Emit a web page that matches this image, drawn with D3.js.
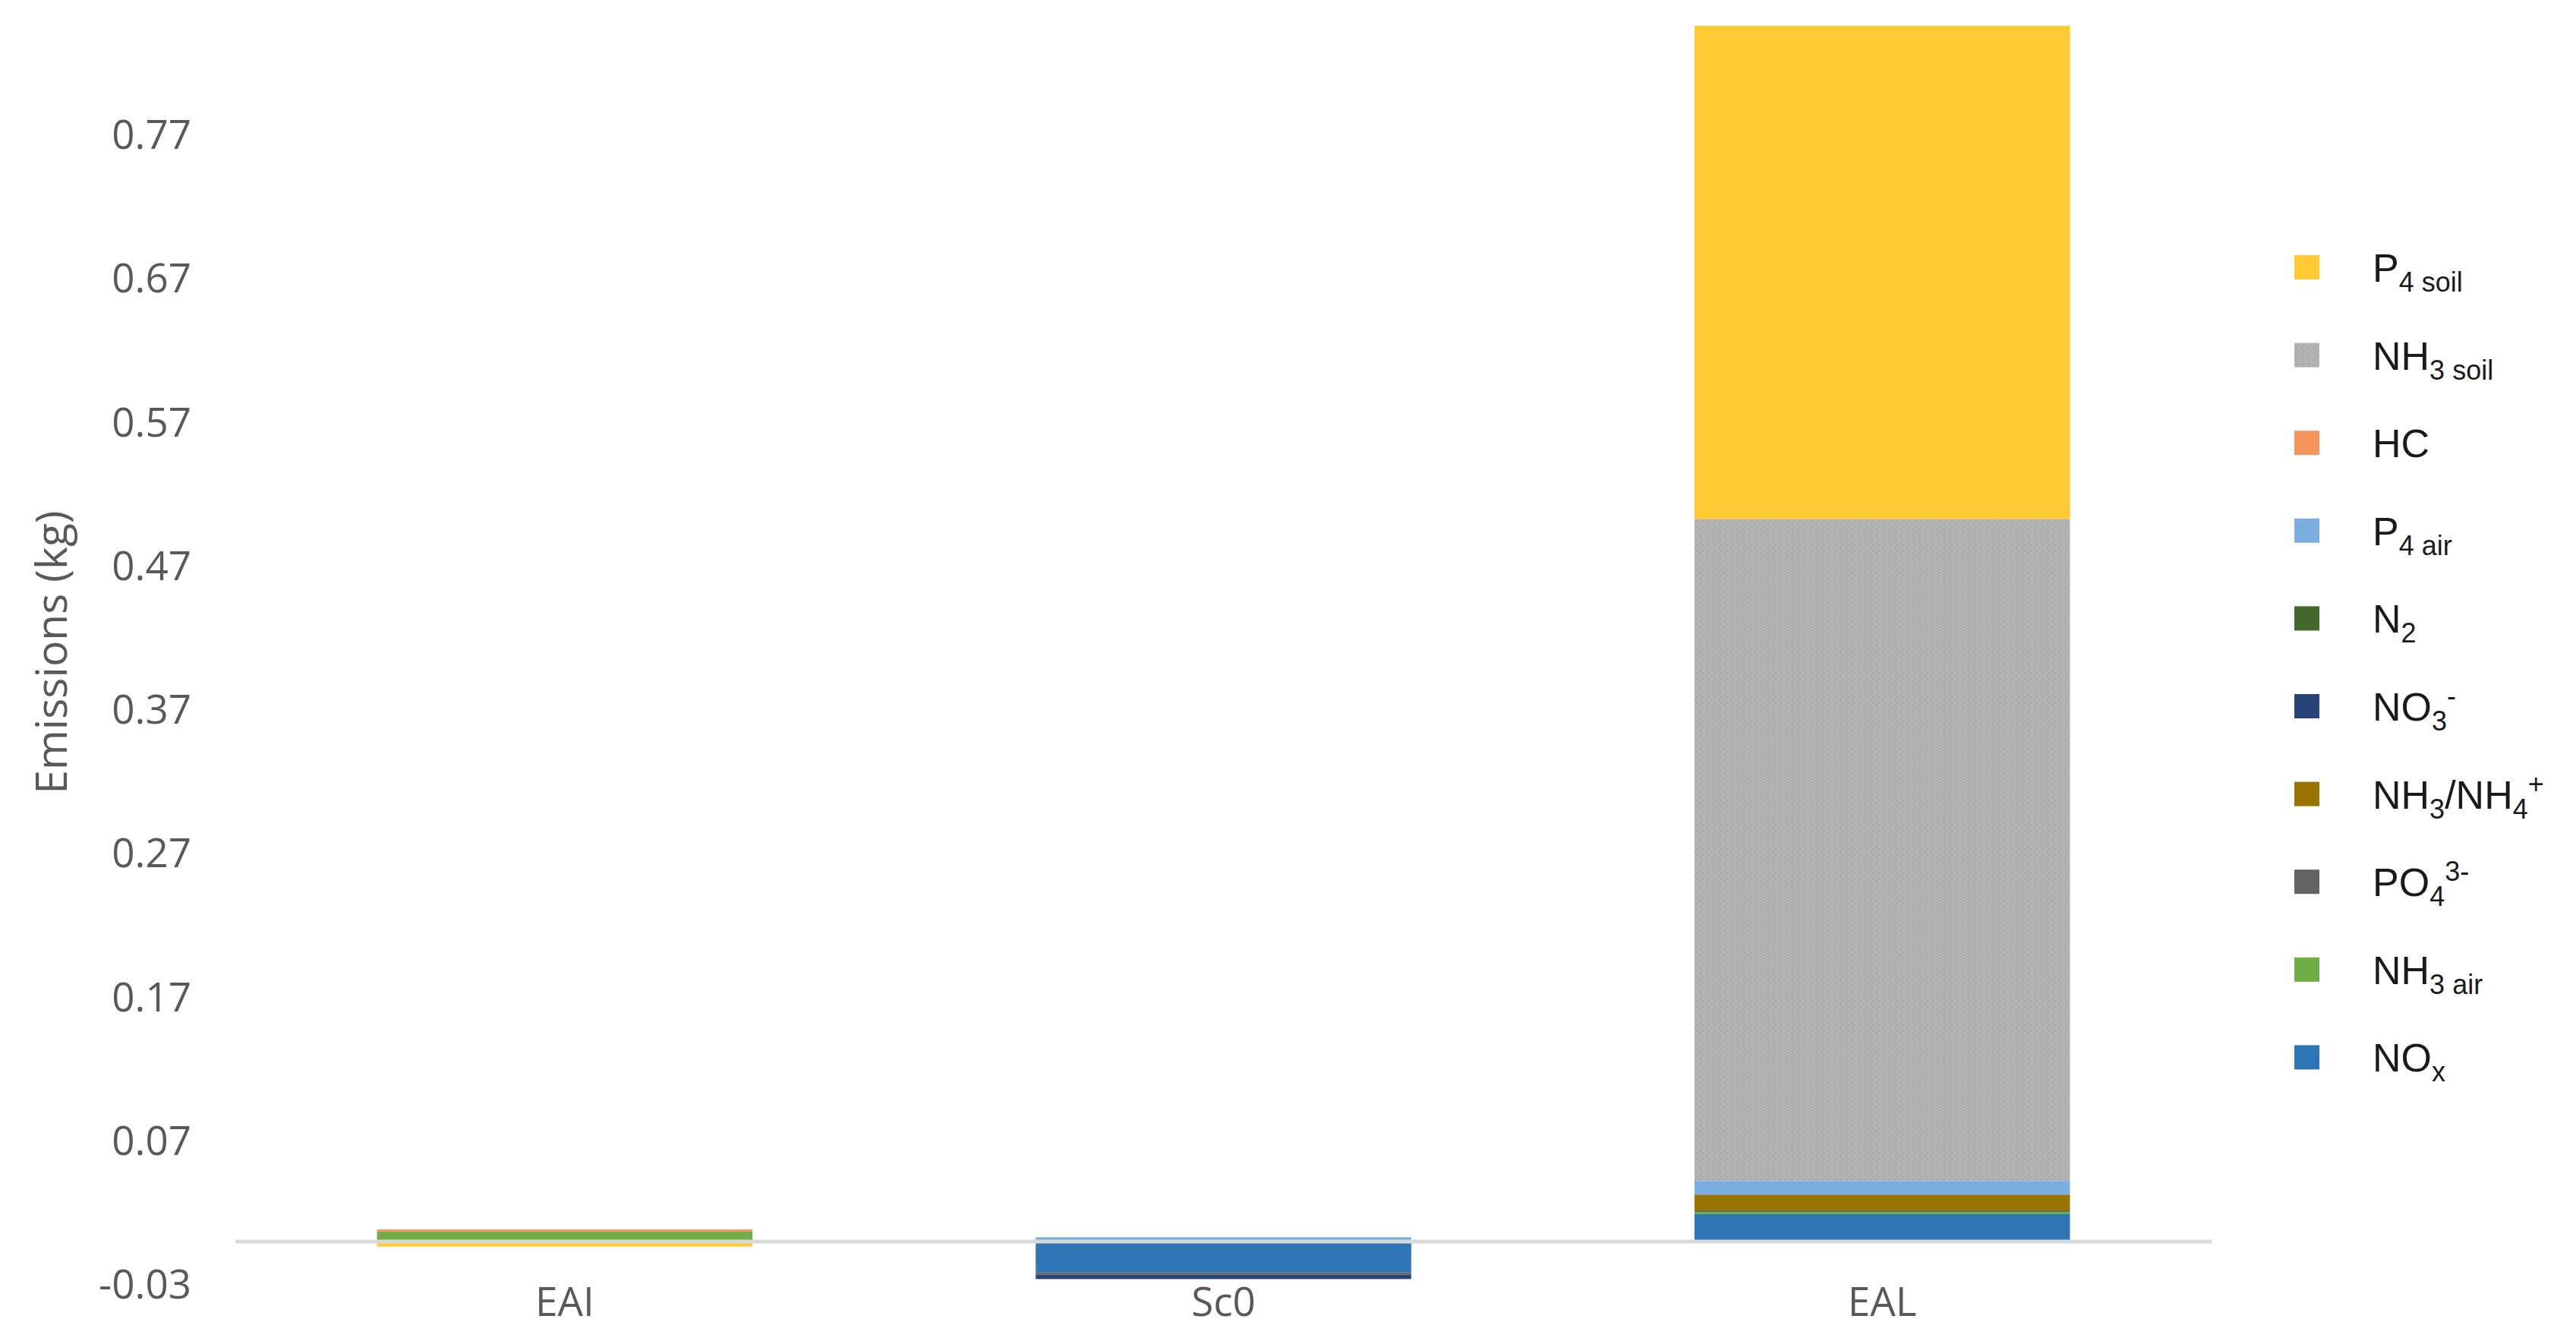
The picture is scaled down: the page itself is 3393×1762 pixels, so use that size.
<!DOCTYPE html>
<html>
<head>
<meta charset="utf-8">
<script src="https://cdn.jsdelivr.net/npm/d3@7"></script>
<style>
  body { margin: 0; background: #fff; }
  svg { display: block; }
</style>
</head>
<body>
<div id="chart"></div>
<script>
// scenarios on the x axis
const categories = ["EAI", "Sc0", "EAL"];

// stack order, bottom to top (legend lists them reversed)
const seriesKeys = ["NOx", "NH3air", "PO4", "NH3NH4", "NO3", "N2", "P4air", "HC", "NH3soil", "P4soil"];

// emissions (kg) per series, in category order EAI, Sc0, EAL
const NOx     = [0,       -0.022,  0.0185];
const NH3air  = [0.0063,  0,       0.0016];
const PO4     = [0,       -0.0016, 0.001];
const NH3NH4  = [0,       0,       0.011];
const NO3     = [0,       -0.003,  0];
const N2      = [0,       0,       0];
const P4air   = [0,       0.0025,  0.0095];
const HC      = [0.0016,  0,       0];
const NH3soil = [0,       0,       0.4606];
const P4soil  = [-0.004,  0,       0.343];

const yTicks = [-0.03, 0.07, 0.17, 0.27, 0.37, 0.47, 0.57, 0.67, 0.77];

const colors = {
  NOx: "#2E75B6", NH3air: "#70AD47", PO4: "#636363", NH3NH4: "#997300",
  NO3: "#264478", N2: "#43682B", P4air: "#7AAEDF", HC: "#F4965B",
  NH3soil: "url(#grain)", P4soil: "#FFCA33"
};

// legend label pieces: [text, "sub" | "sup" | ""]
const labels = {
  P4soil:  [["P", ""], ["4 soil", "sub"]],
  NH3soil: [["NH", ""], ["3 soil", "sub"]],
  HC:      [["HC", ""]],
  P4air:   [["P", ""], ["4 air", "sub"]],
  N2:      [["N", ""], ["2", "sub"]],
  NO3:     [["NO", ""], ["3", "sub"], ["-", "sup"]],
  NH3NH4:  [["NH", ""], ["3", "sub"], ["/NH", ""], ["4", "sub"], ["+", "sup"]],
  PO4:     [["PO", ""], ["4", "sub"], ["3-", "sup"]],
  NH3air:  [["NH", ""], ["3 air", "sub"]],
  NOx:     [["NO", ""], ["x", "sub"]]
};

const seriesData = { NOx, NH3air, PO4, NH3NH4, NO3, N2, P4air, HC, NH3soil, P4soil };
const table = categories.map((c, i) => {
  const row = { cat: c };
  seriesKeys.forEach(k => row[k] = seriesData[k][i]);
  return row;
});

const W = 3393, H = 1762;
const svg = d3.select("#chart").append("svg").attr("width", W).attr("height", H);

// grainy grey fill like the original NH3 soil bar
const defs = svg.append("defs");
const pat = defs.append("pattern").attr("id", "grain")
  .attr("patternUnits", "userSpaceOnUse").attr("width", 8).attr("height", 8);
pat.append("rect").attr("width", 8).attr("height", 8).attr("fill", "#B5B5B5");
[[0,0,2,3],[4,1,1,3],[2,5,2,2],[6,4,2,1],[5,7,2,1],[1,3,1,2],[7,0,1,2]].forEach(r => {
  pat.append("rect").attr("x", r[0]).attr("y", r[1]).attr("width", r[2]).attr("height", r[3])
    .attr("fill", "#A9A9A9");
});

const plotLeft = 310, plotRight = 2913;
const zeroY = 1634, perUnit = 1893;

const x = d3.scaleBand()
  .domain(categories)
  .range([plotLeft, plotRight])
  .paddingInner(0.43)
  .paddingOuter(0.215);

const y = d3.scaleLinear()
  .domain([-0.03, 0.87])
  .range([zeroY + 0.03 * perUnit, zeroY - 0.87 * perUnit]);

const stack = d3.stack().keys(seriesKeys).offset(d3.stackOffsetDiverging);
const layers = stack(table);

svg.append("g").selectAll("g")
  .data(layers)
  .join("g")
  .attr("fill", d => colors[d.key])
  .selectAll("rect")
  .data(d => d)
  .join("rect")
  .attr("x", d => x(d.data.cat))
  .attr("width", x.bandwidth())
  .attr("y", d => y(Math.max(d[0], d[1])))
  .attr("height", d => Math.abs(y(d[0]) - y(d[1])));

// zero line
svg.append("line")
  .attr("x1", plotLeft).attr("x2", plotRight)
  .attr("y1", y(0) + 1).attr("y2", y(0) + 1)
  .attr("stroke", "#D9D9D9")
  .attr("stroke-width", 5);

// y axis labels
const yAxis = svg.append("g")
  .attr("transform", `translate(${plotLeft},0)`)
  .call(d3.axisLeft(y).tickValues(yTicks).tickSize(0).tickPadding(58)
    .tickFormat(d3.format(".2f")));
yAxis.select(".domain").remove();
yAxis.selectAll("text")
  .attr("font-family", "'Open Sans', sans-serif")
  .attr("font-size", 53)
  .attr("fill", "#595959")
  .attr("dy", "0.36em")
  .text(d => d < 0 ? "-" + d3.format(".2f")(-d) : d3.format(".2f")(d));

// x axis labels
const xAxis = svg.append("g")
  .attr("transform", `translate(0,${zeroY})`)
  .call(d3.axisBottom(x).tickSize(0).tickPadding(61));
xAxis.select(".domain").remove();
xAxis.selectAll("text")
  .attr("font-family", "'Open Sans', sans-serif")
  .attr("font-size", 53)
  .attr("fill", "#595959");

// y axis title
svg.append("text")
  .attr("transform", "translate(88,859) rotate(-90)")
  .attr("text-anchor", "middle")
  .attr("font-family", "'Open Sans', sans-serif")
  .attr("font-size", 57)
  .attr("fill", "#595959")
  .text("Emissions (kg)");

// legend
const legendKeys = seriesKeys.slice().reverse();
const legend = svg.append("g").attr("font-family", "'Liberation Sans', Arial, sans-serif");
legendKeys.forEach((k, i) => {
  const cy = 352 + i * 115.6;
  legend.append("rect")
    .attr("x", 3022).attr("y", cy - 16)
    .attr("width", 33).attr("height", 32)
    .attr("fill", colors[k]);
  const t = legend.append("text")
    .attr("x", 3125).attr("y", cy + 19)
    .attr("font-size", 52)
    .attr("fill", "#1a1a1a");
  let shift = 0;
  labels[k].forEach(([txt, kind]) => {
    const target = kind === "sub" ? 13 : kind === "sup" ? -20 : 0;
    t.append("tspan")
      .attr("dy", target - shift)
      .attr("font-size", kind ? 36 : 52)
      .text(txt);
    shift = target;
  });
});
</script>
</body>
</html>
